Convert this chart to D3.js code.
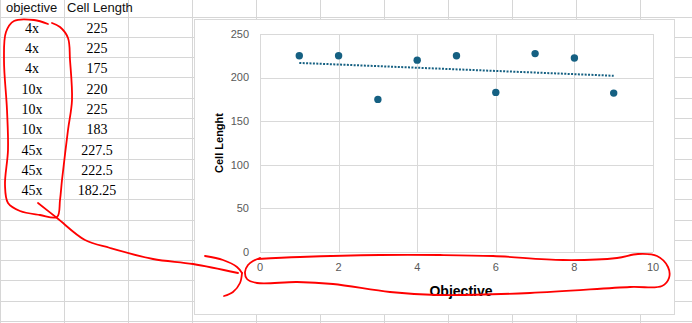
<!DOCTYPE html>
<html>
<head>
<meta charset="utf-8">
<script src="https://cdn.jsdelivr.net/npm/d3@7"></script>
<style>
  html, body { margin: 0; padding: 0; background: #fff; overflow: hidden; }
  svg { display: block; }
</style>
</head>
<body>
<svg id="chart"></svg>
<script>
// Table data
const headers = ["objective", "Cell Length"];
const objectives = ["4x", "4x", "4x", "10x", "10x", "10x", "45x", "45x", "45x"];
const cellLengthText = ["225", "225", "175", "220", "225", "183", "227.5", "222.5", "182.25"];
const cellLength = [225, 225, 175, 220, 225, 183, 227.5, 222.5, 182.25];

// Axis ticks
const xTicks = [0, 2, 4, 6, 8, 10];
const yTicks = [0, 50, 100, 150, 200, 250];

const width = 692, height = 323;
const svg = d3.select("#chart").attr("width", width).attr("height", height);

// Spreadsheet grid
const colW = 64, rowH = 20.3, rowTop = 16.5;
const gridColor = "#d6d6d6";
const grid = svg.append("g").attr("stroke", gridColor).attr("stroke-width", 1);
d3.range(0, 12).forEach(i => {
    grid.append("line")
        .attr("x1", 0.5 + i * colW).attr("x2", 0.5 + i * colW)
        .attr("y1", 0).attr("y2", height);
});
d3.range(0, 16).forEach(i => {
    const yy = Math.round(rowTop + i * rowH) + 0.5;
    grid.append("line")
        .attr("x1", 0).attr("x2", width)
        .attr("y1", yy).attr("y2", yy);
});

// Header cells
const headerX = [6, 67];
svg.selectAll("text.header")
    .data(headers)
    .enter().append("text")
    .attr("class", "header")
    .attr("x", (d, i) => headerX[i])
    .attr("y", 12)
    .style("font-family", "'Liberation Sans', Arial, sans-serif")
    .style("font-size", "13px")
    .attr("fill", "#111")
    .text(d => d);

// Data cells
const cellFont = "'Liberation Serif', 'Times New Roman', serif";
objectives.forEach((d, i) => {
    const base = rowTop + (i + 1) * rowH - 4;
    svg.append("text")
        .attr("x", 32).attr("y", base)
        .attr("text-anchor", "middle")
        .style("font-family", cellFont).style("font-size", "14px")
        .attr("fill", "#000")
        .text(d);
    svg.append("text")
        .attr("x", 97).attr("y", base)
        .attr("text-anchor", "middle")
        .style("font-family", cellFont).style("font-size", "14px")
        .attr("fill", "#000")
        .text(cellLengthText[i]);
});

// Chart frame
svg.append("rect")
    .attr("x", 194.5).attr("y", 19.5)
    .attr("width", 480).attr("height", 295)
    .attr("fill", "#fff")
    .attr("stroke", "#d9d9d9");

const x = d3.scaleLinear().domain([0, 10]).range([260, 653]);
const y = d3.scaleLinear().domain([0, 250]).range([252, 34]);

const plot = svg.append("g");

// Gridlines
plot.selectAll("line.hgrid")
    .data(yTicks)
    .enter().append("line")
    .attr("x1", x(0)).attr("x2", x(10))
    .attr("y1", d => Math.round(y(d)) + 0.5).attr("y2", d => Math.round(y(d)) + 0.5)
    .attr("stroke", "#d9d9d9");
plot.selectAll("line.vgrid")
    .data(xTicks)
    .enter().append("line")
    .attr("y1", y(0)).attr("y2", y(250))
    .attr("x1", d => Math.round(x(d)) + 0.5).attr("x2", d => Math.round(x(d)) + 0.5)
    .attr("stroke", "#d9d9d9");

// Tick labels
const tickFont = "'Liberation Sans', Arial, sans-serif";
plot.selectAll("text.ytick")
    .data(yTicks)
    .enter().append("text")
    .attr("x", 249).attr("y", d => y(d))
    .attr("dy", "0.35em")
    .attr("text-anchor", "end")
    .style("font-family", tickFont).style("font-size", "11px")
    .attr("fill", "#595959")
    .text(d => d);
plot.selectAll("text.xtick")
    .data(xTicks)
    .enter().append("text")
    .attr("x", d => x(d)).attr("y", 267)
    .attr("dy", "0.35em")
    .attr("text-anchor", "middle")
    .style("font-family", tickFont).style("font-size", "11px")
    .attr("fill", "#595959")
    .text(d => d);

// Axis titles
plot.append("text")
    .attr("transform", `translate(223, ${(y(0) + y(250)) / 2}) rotate(-90)`)
    .attr("text-anchor", "middle")
    .style("font-family", tickFont).style("font-size", "11px").style("font-weight", "bold")
    .attr("fill", "#000")
    .text("Cell Lenght");
plot.append("text")
    .attr("x", 461).attr("y", 296)
    .attr("text-anchor", "middle")
    .style("font-family", tickFont).style("font-size", "14px").style("font-weight", "bold")
    .attr("fill", "#000")
    .text("Objective");

// Linear trendline (least squares)
const pts = cellLength.map((v, i) => ({ x: i + 1, y: v }));
const mx = d3.mean(pts, d => d.x), my = d3.mean(pts, d => d.y);
const slope = d3.sum(pts, d => (d.x - mx) * (d.y - my)) / d3.sum(pts, d => (d.x - mx) ** 2);
const icpt = my - slope * mx;
const xs = d3.extent(pts, d => d.x);
plot.append("line")
    .attr("x1", x(xs[0])).attr("y1", y(icpt + slope * xs[0]))
    .attr("x2", x(xs[1])).attr("y2", y(icpt + slope * xs[1]))
    .attr("stroke", "#156082")
    .attr("stroke-width", 2)
    .attr("stroke-dasharray", "2,1.4");

// Points
plot.selectAll("circle")
    .data(pts)
    .enter().append("circle")
    .attr("cx", d => x(d.x))
    .attr("cy", d => y(d.y))
    .attr("r", 3.7)
    .attr("fill", "#156082");

// Red hand-drawn annotations
const loopColumn = [[48,24],[34,20],[14,21],[6,32],[4,60],[7,110],[8,150],[5,185],[8,203],[20,211],[40,215],[57,217],
    [60,200],[62,180],[68,130],[72,100],[70,60],[68,38],[60,27],[52,23]];
const arrowLine = [[38,203],[57,218],[85,240],[110,248],[153,259],[193,264],[238,273]];
const arrowUpper = [[205,256],[223,260],[237,267],[242,273]];
const arrowLower = [[242,273],[240,283],[233,292],[224,296]];
const loopAxis = [[258,259],[300,257],[380,255],[440,255],[493,256],[563,260],[617,258],[638,254],[657,256],[668,267],
    [669,278],[662,286],[630,287],[530,293],[437,295],[390,292],[333,284],[297,282],[257,283],[247,279],[245,272],
    [248,265],[253,261],[260,258]];

const pen = d3.line().curve(d3.curveCatmullRom.alpha(0.5));
const ann = svg.append("g")
    .attr("fill", "none")
    .attr("stroke", "#ff0000")
    .attr("stroke-width", 1.8)
    .attr("stroke-linecap", "round")
    .attr("stroke-linejoin", "round");
[loopColumn, arrowLine, arrowUpper, arrowLower, loopAxis].forEach(p => {
    ann.append("path").attr("d", pen(p));
});
</script>
</body>
</html>
